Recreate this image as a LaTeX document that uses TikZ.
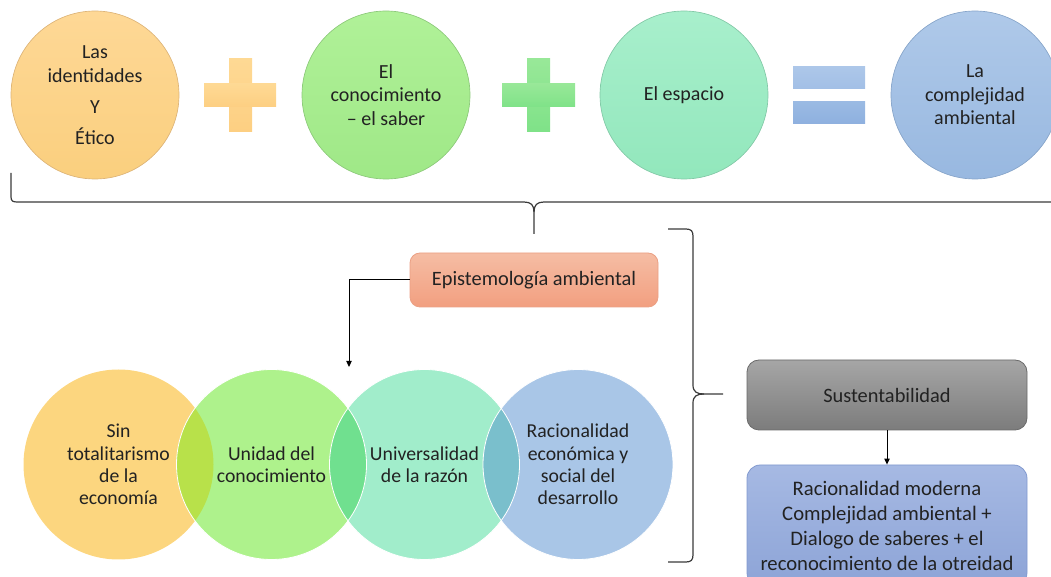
\documentclass[tikz,border=0pt]{standalone}
\usepackage{fontspec}
\setmainfont{Carlito}
\usetikzlibrary{arrows.meta,shadings}
\definecolor{txt}{HTML}{222222}
\definecolor{brc}{HTML}{3A3A3A}
\definecolor{oA}{HTML}{FED896}\definecolor{oB}{HTML}{FACF7E}\definecolor{oD}{HTML}{DDB478}
\definecolor{gA}{HTML}{B0F198}\definecolor{gB}{HTML}{9FE887}\definecolor{gD}{HTML}{8CC97A}
\definecolor{mA}{HTML}{A8EFCC}\definecolor{mB}{HTML}{92E7BC}\definecolor{mD}{HTML}{82C8A6}
\definecolor{bA}{HTML}{AFC9E9}\definecolor{bB}{HTML}{98B8E0}\definecolor{bD}{HTML}{86A4C9}
\definecolor{p1A}{HTML}{FED994}\definecolor{p1B}{HTML}{FDCF82}
\definecolor{p2A}{HTML}{98E898}\definecolor{p2B}{HTML}{7FE288}
\definecolor{q1A}{HTML}{ADC7E9}\definecolor{q1B}{HTML}{A2BFE6}
\definecolor{q2A}{HTML}{9ABAE3}\definecolor{q2B}{HTML}{8EB0DF}
\definecolor{v1}{HTML}{FCD67F}\definecolor{v2}{HTML}{AEF28C}
\definecolor{v3}{HTML}{A1EDCB}\definecolor{v4}{HTML}{A9C6E7}
\definecolor{l12}{HTML}{B8E14A}\definecolor{l23}{HTML}{70E08F}\definecolor{l34}{HTML}{7ABFCC}
\definecolor{eA}{HTML}{F5BDA4}\definecolor{eB}{HTML}{F29F80}\definecolor{eD}{HTML}{EBA084}
\definecolor{sA}{HTML}{A6A6A6}\definecolor{sB}{HTML}{7C7C7C}\definecolor{sD}{HTML}{6A6A6A}
\definecolor{rA}{HTML}{A6B9E3}\definecolor{rB}{HTML}{8DA4D7}\definecolor{rD}{HTML}{8199CF}
\begin{document}
\begin{tikzpicture}[x=0.75pt,y=-0.75pt,
  topcirc/.style={circle,minimum size=126pt,inner sep=0pt,align=center,text=txt,
    font=\fontsize{15}{17.6}\selectfont,line width=0.5pt},
  venn/.style={circle,minimum size=142.5pt,inner sep=0pt},
  vtext/.style={align=center,text=txt,inner sep=0pt,font=\fontsize{14.8}{16.8}\selectfont},
  rbox/.style={rectangle,rounded corners=8pt,align=center,text=txt,inner sep=0pt,line width=0.6pt},
  arr/.style={-{Triangle[length=4.5pt,width=4pt]},line width=0.75pt,black},
  brace/.style={draw=brc,line width=0.9pt}]
\useasboundingbox (0,0) rectangle (1051,577);
\clip (0,0) rectangle (1051,577);
% top row
\node[topcirc,top color=oA,bottom color=oB,draw=oD] (c1) at (95,95)
  {Las\\identidades\\[5.6pt]Y\\[5.6pt]Ético};
\node[topcirc,top color=gA,bottom color=gB,draw=gD] (c2) at (386,95)
  {El\\conocimiento\\– el saber};
\node[topcirc,top color=mA,bottom color=mB,draw=mD] (c3) at (684,95)
  {El espacio};
\node[topcirc,top color=bA,bottom color=bB,draw=bD] (c4) at (975,95)
  {La\\complejidad\\ambiental};
% plus signs and equals
\fill[top color=p1A,bottom color=p1B] (229,59) rectangle (252,132);
\fill[top color=p1A,bottom color=p1B] (204,84) rectangle (276,107);
\fill[top color=p2A,bottom color=p2B] (527,59) rectangle (550,132);
\fill[top color=p2A,bottom color=p2B] (502,84) rectangle (575,107);
\fill[top color=q1A,bottom color=q1B] (793,67) rectangle (865,89);
\fill[top color=q2A,bottom color=q2B] (793,102) rectangle (865,124);
% top brace
\draw[brace] (11,173) -- (11,197) .. controls (11,201) and (13,202) .. (17,202) -- (524,202)
  .. controls (531,202) and (534,205) .. (534,212) -- (534,234);
\draw[brace] (534,212) .. controls (534,205) and (537,202) .. (544,202) -- (1060,202);
% right brace
\draw[brace] (668,229) -- (686,229) .. controls (691,229) and (693,231) .. (693,236) -- (693,385)
  .. controls (693,392) and (697,394) .. (704,394) -- (723,394);
\draw[brace] (704,394) .. controls (697,394) and (693,396) .. (693,403) -- (693,555)
  .. controls (693,560) and (691,562) .. (686,562) -- (668,562);
% venn row
\node[venn,fill=v1] (e1) at (118.5,464.5) {};
\node[venn,fill=v2] (e2) at (271.5,464.5) {};
\node[venn,fill=v3] (e3) at (424.5,464.5) {};
\node[venn,fill=v4] (e4) at (578,464.5) {};
\begin{scope}
  \clip (e1.center) circle[radius=71.25pt];
  \fill[l12] (e2.center) circle[radius=71.25pt];
\end{scope}
\begin{scope}
  \clip (e2.center) circle[radius=71.25pt];
  \fill[l23] (e3.center) circle[radius=71.25pt];
\end{scope}
\begin{scope}
  \clip (e3.center) circle[radius=71.25pt];
  \fill[l34] (e4.center) circle[radius=71.25pt];
\end{scope}
\foreach \n in {e2,e3,e4}{\draw[white,line width=0.6pt] (\n.center) circle[radius=71.25pt];}
\node[vtext] (t1) at (e1) {Sin\\totalitarismo\\de la\\economía};
\node[vtext] (t2) at (e2) {Unidad del\\conocimiento};
\node[vtext] (t3) at (e3) {Universalidad\\de la razón};
\node[vtext] (t4) at (e4) {Racionalidad\\económica y\\social del\\desarrollo};
% boxes
\node[rbox,rounded corners=7.5pt,top color=eA,bottom color=eB,draw=eD,
  minimum width=186pt,minimum height=40.5pt,font=\fontsize{15.3}{18}\selectfont] (ep) at (534,280)
  {Epistemología ambiental};
\node[rbox,rounded corners=9pt,top color=sA,bottom color=sB,draw=sD,
  minimum width=210pt,minimum height=52.5pt,font=\fontsize{15.3}{18}\selectfont] (su) at (887,395)
  {Sustentabilidad};
\node[rbox,rounded corners=10pt,top color=rA,bottom color=rB,draw=rD,
  minimum width=210pt,minimum height=90.75pt,font=\fontsize{15.5}{18.75}\selectfont] (ra) at (887,525.5)
  {Racionalidad moderna\\Complejidad ambiental +\\Dialogo de saberes + el\\reconocimiento de la otreidad};
% connectors
\coordinate (vt) at (349,367);
\draw[arr] (ep.west) -| (vt);
\draw[arr] (su.south) -- (ra.north);
\end{tikzpicture}
\end{document}
